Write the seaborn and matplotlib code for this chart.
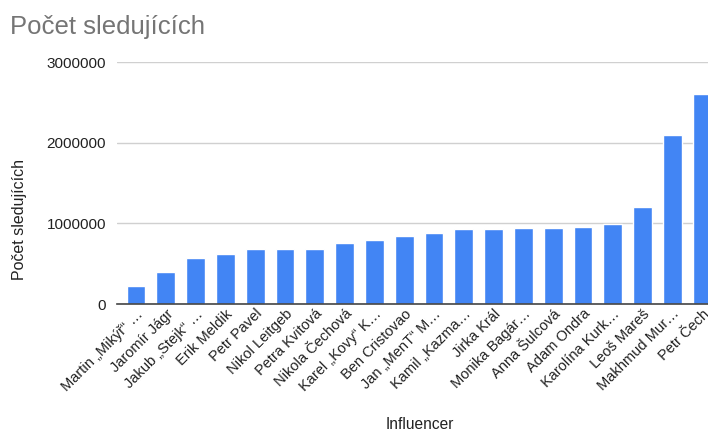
import matplotlib
matplotlib.use("Agg")
import matplotlib.pyplot as plt
import seaborn as sns
import pandas as pd

influencers = [
    "Martin „Mikýř“ …", "Jaromír Jágr", "Jakub „Stejk“ …", "Erik Meldik",
    "Petr Pavel", "Nikol Leitgeb", "Petra Kvitová", "Nikola Čechová",
    "Karel „Kovy“ K…", "Ben Cristovao", "Jan „MenT“ M…", "Kamil „Kazma…",
    "Jirka Král", "Monika Bagár…", "Anna Šulcová", "Adam Ondra",
    "Karolína Kurk…", "Leoš Mareš", "Makhmud Mur…", "Petr Čech",
]
followers = [
    220000, 400000, 570000, 620000, 680000, 680000, 680000, 760000,
    790000, 840000, 880000, 925000, 925000, 940000, 940000, 960000,
    990000, 1200000, 2100000, 2600000,
]
y_ticks = [0, 1000000, 2000000, 3000000]

sns.set_theme(style="white")
plt.rcParams["font.family"] = ["Liberation Sans", "DejaVu Sans"]

df = pd.DataFrame({"Influencer": influencers, "Počet sledujících": followers})

fig = plt.figure(figsize=(7.08, 4.33), dpi=100)
ax = fig.add_axes([117 / 708, 1 - 304 / 433, 600 / 708, (304 - 62) / 433])

sns.barplot(data=df, x="Influencer", y="Počet sledujících", order=influencers,
            color="#4285F4", saturation=1, width=0.63, ax=ax, zorder=3)

ax.set_ylim(0, 3000000)
ax.set_xlim(-0.64, 19.5)
ax.set_yticks(y_ticks)
ax.set_yticklabels([str(v) for v in y_ticks], fontsize=11, color="#222222")
ax.yaxis.grid(True, color="#d0d0d0", linewidth=1, zorder=0)
ax.tick_params(axis="y", length=0, pad=8)
ax.tick_params(axis="x", length=0, pad=2)
for s in ["top", "right", "left"]:
    ax.spines[s].set_visible(False)
ax.spines["bottom"].set_color("#444444")
ax.spines["bottom"].set_linewidth(1.2)
ax.spines["bottom"].set_zorder(4)

ax.set_xticks(range(len(influencers)))
ax.set_xticklabels(influencers, rotation=45, ha="right", rotation_mode="anchor",
                   fontsize=10.5, color="#222222")

ax.set_xlabel("Influencer", fontsize=11.2, color="#222222")
ax.xaxis.set_label_coords((420 - 117) / 600, -(417 - 304) / 242)
ax.set_ylabel("Počet sledujících", fontsize=11.5, color="#222222")
ax.yaxis.set_label_coords(-(117 - 27) / 600, (304 - 220) / 242)

fig.text(10 / 708, 1 - 27 / 433, "Počet sledujících", fontsize=18.5,
         color="#757575", va="center", ha="left")

fig.savefig("out.png", dpi=100)
